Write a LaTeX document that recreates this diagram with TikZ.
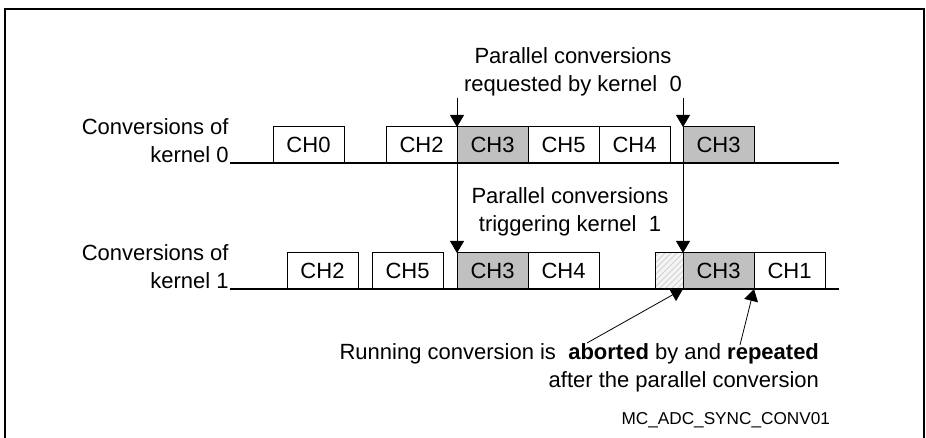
\documentclass[tikz,border=0pt]{standalone}
\usepackage{fontspec}
\setmainfont{Liberation Sans}
\usetikzlibrary{positioning,arrows.meta,patterns}
\definecolor{chgray}{RGB}{192,192,192}
\begin{document}
\begin{tikzpicture}[x=0.5pt,y=-0.5pt,font=\fontsize{11}{14}\selectfont,>={Triangle[length=6pt,width=7pt]}]
	\tikzstyle{chan} = [draw, line width=0.5pt, inner sep=0pt, outer sep=0pt, minimum width=35.5pt, minimum height=18pt, anchor=south west]
	\tikzstyle{par} = [chan, fill=chgray]
	\tikzstyle{axis} = [line width=0.6pt]
	\useasboundingbox (0,0) rectangle (926,438);
	\draw[line width=0.7pt] (5,438) |- (924,9) -- (924,438);

	% Define nodes
	\node[chan] (k0ch0) at (273,163) {CH0};
	\node[chan] (k0ch2) at (386,163) {CH2};
	\node[par, right=0pt of k0ch2] (k0ch3) {CH3};
	\node[chan, right=0pt of k0ch3] (k0ch5) {CH5};
	\node[chan, right=0pt of k0ch5] (k0ch4) {CH4};
	\node[par] (k0ch3r) at (683,163) {CH3};

	\node[chan] (k1ch2) at (287,289) {CH2};
	\node[chan] (k1ch5) at (372,289) {CH5};
	\node[par] (k1ch3) at (457,289) {CH3};
	\node[chan, right=0pt of k1ch3] (k1ch4) {CH4};
	\node[chan, minimum width=14pt, preaction={fill=gray!8}, pattern=north east lines, pattern color=gray!35] (k1abort) at (655,289) {};
	\node[par, right=0pt of k1abort] (k1ch3r) {CH3};
	\node[chan, right=0pt of k1ch3r] (k1ch1) {CH1};

	% Labels
	\node[align=right, anchor=south east, inner sep=0pt] (k0label) at (229,163) {Conversions of\\kernel 0};
	\node[align=right, anchor=south east, inner sep=0pt] (k1label) at (229,289) {Conversions of\\kernel 1};
	\node[align=center] (reqnote) at (573,72) {Parallel conversions\\requested by kernel~~0};
	\node[align=center] (trignote) at (570,212) {Parallel conversions\\triggering kernel~~1};
	\node[align=right, anchor=east] (abortnote) at (826,368) {Running conversion is~~\textbf{aborted} by and \textbf{repeated}\\after the parallel conversion};
	\node[font=\fontsize{8.6}{10}\selectfont, anchor=east] (figid) at (837,420) {MC\_ADC\_SYNC\_CONV01};

	% Time lines
	\coordinate (k0start) at (230,163);
	\coordinate (k0end) at (839,163);
	\coordinate (k1start) at (230,289);
	\coordinate (k1end) at (839,289);
	\draw[axis] (k0start) -- (k0end);
	\draw[axis] (k1start) -- (k1end);

	% Draw arrows
	\coordinate (req1) at (457,98);
	\coordinate (req2) at (683,98);
	\coordinate (trig2) at (683,163);
	\coordinate (abortTail) at (587,343);
	\coordinate (repeatTail) at (740,345);
	\draw[->] (req1) -- (k0ch3.north west);
	\draw[->] (req2) -- (k0ch3r.north west);
	\draw[->] (k0ch3.south west) -- (k1ch3.north west);
	\draw[->] (trig2) -- (k1ch3r.north west);
	\draw[->] (abortTail) -- (k1ch3r.south west);
	\draw[->] (repeatTail) -- (k1ch1.south west);

\end{tikzpicture}
\end{document}
